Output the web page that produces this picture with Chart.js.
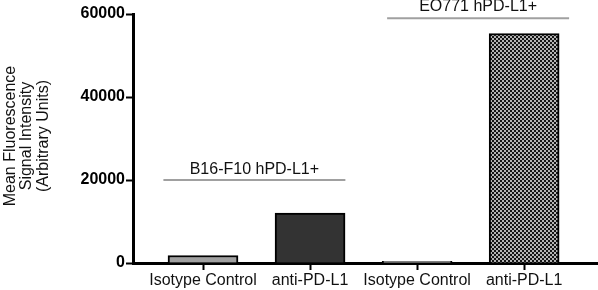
<!DOCTYPE html>
<html>
<head>
<meta charset="utf-8">
<script src="https://cdn.jsdelivr.net/npm/chart.js@4.4.0/dist/chart.umd.min.js"></script>
<style>
    html, body { margin: 0; padding: 0; background: #fff; }
    #wrap { width: 598px; height: 290px; position: relative; }
</style>
</head>
<body>
<div id="wrap"><canvas id="mfi"></canvas></div>
<script>
// data
const categories = ['Isotype Control', 'anti-PD-L1', 'Isotype Control', 'anti-PD-L1'];
const mfiValues = [1800, 12000, 400, 55300];
const yTicks = [0, 20000, 40000, 60000];
const groupNames = ['B16-F10 hPD-L1+', 'EO771 hPD-L1+'];
const groupSpans = [[0.63, 2.33], [2.72, 4.42]];
const groupLevels = [20000, 59000];
const yTitle = ['Mean Fluorescence', 'Signal Intensity', '(Arbitrary Units)'];

// checkered fill for last bar
const pat = document.createElement('canvas');
pat.width = 4; pat.height = 4;
const pctx = pat.getContext('2d');
pctx.fillStyle = '#b4b4b4';
pctx.fillRect(0, 0, 4, 4);
pctx.fillStyle = '#151515';
pctx.fillRect(0, 0, 2, 2);
pctx.fillRect(2, 2, 2, 2);
const checker = document.getElementById('mfi').getContext('2d').createPattern(pat, 'repeat');

const FONT = "'Liberation Sans', Arial, sans-serif";
const labelGap = [10, 12]; // px between bracket and its label

const annotations = {
    id: 'annotations',
    afterDraw(chart) {
        const ctx = chart.ctx;
        const x = chart.scales.x, y = chart.scales.y;
        ctx.save();
        // group brackets
        groupNames.forEach((name, i) => {
            const x0 = x.getPixelForValue(groupSpans[i][0]);
            const x1 = x.getPixelForValue(groupSpans[i][1]);
            const yy = y.getPixelForValue(groupLevels[i]);
            ctx.strokeStyle = '#a0a0a0';
            ctx.lineWidth = 2;
            ctx.beginPath();
            ctx.moveTo(x0, yy);
            ctx.lineTo(x1, yy);
            ctx.stroke();
            ctx.fillStyle = '#111';
            ctx.font = '16px ' + FONT;
            ctx.textAlign = 'center';
            ctx.textBaseline = 'middle';
            ctx.fillText(name, (x0 + x1) / 2, yy - labelGap[i]);
        });
        // y axis title
        ctx.translate(27, 136);
        ctx.rotate(-Math.PI / 2);
        ctx.fillStyle = '#111';
        ctx.font = '16px ' + FONT;
        ctx.textAlign = 'center';
        ctx.textBaseline = 'middle';
        yTitle.forEach((line, i) => ctx.fillText(line, 0, (i - 1) * 16.5));
        ctx.restore();
    }
};

new Chart(document.getElementById('mfi'), {
    type: 'bar',
    data: {
        datasets: [{
            data: mfiValues.map((v, i) => ({ x: i + 1, y: v })),
            backgroundColor: ['#a0a0a0', '#333333', '#ffffff', checker],
            borderColor: '#000',
            borderWidth: 2,
            borderSkipped: 'bottom',
            barThickness: 70
        }]
    },
    options: {
        responsive: true,
        maintainAspectRatio: false,
        animation: false,
        layout: { padding: { top: 14, left: 0, right: 0, bottom: 0 } },
        scales: {
            x: {
                type: 'linear',
                offset: false,
                min: 0.346,
                max: 4.69,
                afterBuildTicks: (s) => { s.ticks = categories.map((c, i) => ({ value: i + 1 })); },
                afterFit: (s) => { s.height = 27; },
                grid: { offset: false, drawOnChartArea: false, drawTicks: true, tickLength: 7, tickWidth: 2, tickColor: '#000' },
                border: { color: '#000', width: 3 },
                ticks: {
                    color: '#111',
                    padding: 1,
                    maxRotation: 0,
                    autoSkip: false,
                    font: { family: FONT, size: 16 },
                    callback: (v) => categories[Math.round(v) - 1]
                }
            },
            y: {
                min: 0,
                max: 60000,
                afterBuildTicks: (s) => { s.ticks = yTicks.map(v => ({ value: v })); },
                afterFit: (s) => { s.width = 133; },
                grid: { drawOnChartArea: false, drawTicks: true, tickLength: 7, tickWidth: 2, tickColor: '#000' },
                border: { color: '#000', width: 3 },
                ticks: {
                    color: '#000',
                    padding: 1,
                    font: { family: FONT, size: 16, weight: 'bold' },
                    callback: (v) => String(v)
                }
            }
        },
        plugins: {
            legend: { display: false },
            tooltip: { enabled: false }
        }
    },
    plugins: [annotations]
});
</script>
</body>
</html>
